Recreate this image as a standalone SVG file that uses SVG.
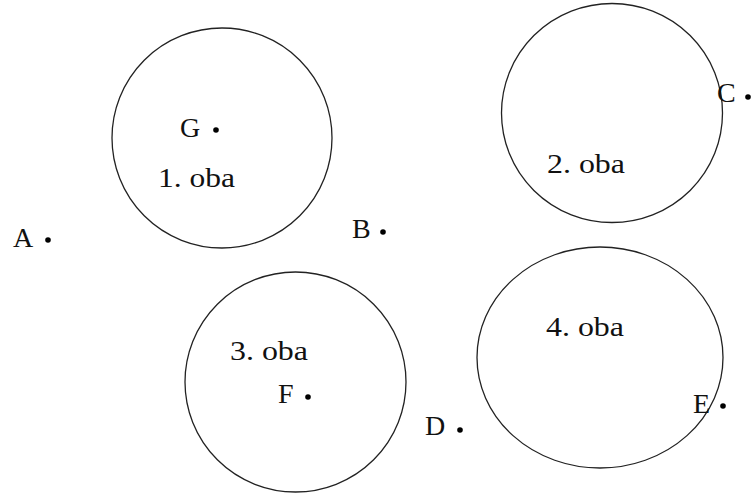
<svg xmlns="http://www.w3.org/2000/svg" width="752" height="497" viewBox="0 0 752 497">
<style>
.c{fill:none;stroke:#222;stroke-width:1.3}
.d{fill:#000}
text{font-family:"Liberation Serif","Times New Roman",serif;font-size:28px;fill:#111}
</style>
<rect width="752" height="497" fill="#fff"/>
<g id="region1"><ellipse class="c" cx="222" cy="138" rx="110" ry="110"/><text x="158" y="187" textLength="77" lengthAdjust="spacingAndGlyphs">1. oba</text></g>
<g id="region2"><ellipse class="c" cx="612" cy="113" rx="110.5" ry="109.5"/><text x="547" y="173" textLength="78" lengthAdjust="spacingAndGlyphs">2. oba</text></g>
<g id="region3"><ellipse class="c" cx="295.5" cy="382" rx="110.5" ry="110"/><text x="230" y="360" textLength="78" lengthAdjust="spacingAndGlyphs">3. oba</text></g>
<g id="region4"><ellipse class="c" cx="600" cy="357.5" rx="123" ry="110.5"/><text x="546" y="336" textLength="78" lengthAdjust="spacingAndGlyphs">4. oba</text></g>
<g id="pointA"><text x="13" y="247">A</text><circle class="d" cx="48" cy="240" r="2.8"/></g>
<g id="pointB"><text x="352" y="238">B</text><circle class="d" cx="383" cy="232" r="2.8"/></g>
<g id="pointC"><text x="717" y="102">C</text><circle class="d" cx="748" cy="97" r="2.8"/></g>
<g id="pointD"><text x="425" y="435">D</text><circle class="d" cx="460" cy="430" r="2.8"/></g>
<g id="pointE"><text x="693" y="413">E</text><circle class="d" cx="723" cy="406" r="2.8"/></g>
<g id="pointF"><text x="278" y="403">F</text><circle class="d" cx="308" cy="397" r="2.8"/></g>
<g id="pointG"><text x="180" y="137">G</text><circle class="d" cx="216" cy="130" r="2.8"/></g>
<g id="connectors"/>
</svg>
